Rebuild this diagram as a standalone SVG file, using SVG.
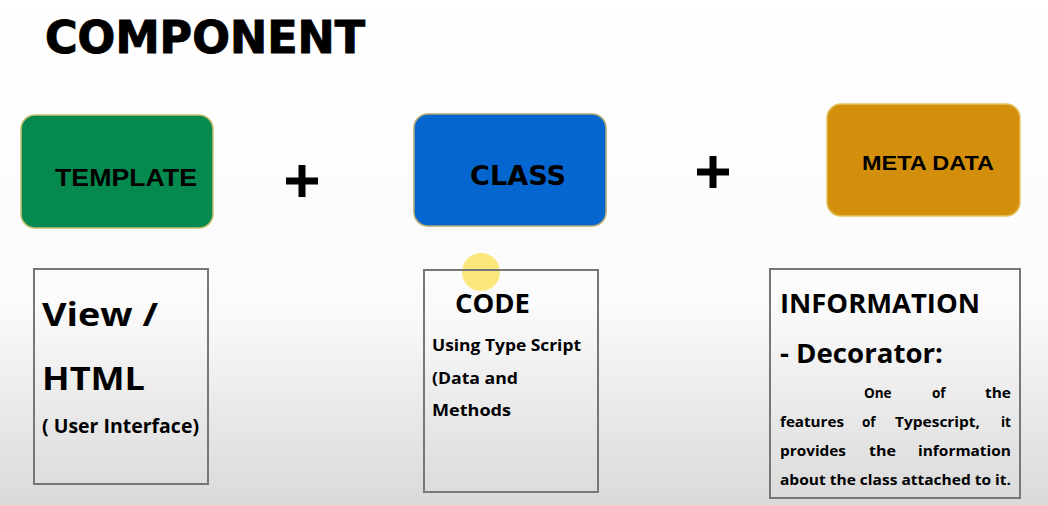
<svg xmlns="http://www.w3.org/2000/svg" width="1048" height="505" viewBox="0 0 1048 505">
<defs>
<linearGradient id="bg" x1="0" y1="0" x2="0" y2="1">
<stop offset="0" stop-color="#ffffff"/>
<stop offset="0.6" stop-color="#fbfbfb"/>
<stop offset="0.78" stop-color="#ececec"/>
<stop offset="1" stop-color="#dadada"/>
</linearGradient>
</defs>
<style>
.hdr{font-family:"DejaVu Sans","Liberation Sans",sans-serif;font-weight:bold;fill:#000}
.lbl{font-family:"Liberation Sans",Arial,sans-serif;font-weight:bold;fill:#000}
.cal{font-family:"Open Sans","Liberation Sans",sans-serif;font-weight:bold;fill:#000}
.card{stroke-width:1.5;rx:14}
.note{fill:none;stroke:#777777;stroke-width:2}
.plus{stroke:#000;stroke-width:7}
</style>
<rect x="0" y="0" width="1048" height="505" fill="url(#bg)"/>
<text class="hdr" x="45" y="53" font-size="44" textLength="320" lengthAdjust="spacingAndGlyphs" stroke="#000" stroke-width="1">COMPONENT</text>

<g id="template">
<rect class="card" x="21" y="115" width="192" height="113" fill="#06894f" stroke="#c8c070"/>
<text class="lbl" x="55" y="186" font-size="23" textLength="142" lengthAdjust="spacingAndGlyphs">TEMPLATE</text>
</g>
<g id="plus1">
<line class="plus" x1="286" y1="181" x2="318" y2="181"/>
<line class="plus" x1="302" y1="165" x2="302" y2="197"/>
</g>
<g id="class">
<rect class="card" x="414" y="114" width="192" height="112" fill="#0566cf" stroke="#b0a870"/>
<text class="hdr" x="470" y="185" font-size="26" textLength="96" lengthAdjust="spacingAndGlyphs" fill="#0a0f2a">CLASS</text>
</g>
<g id="plus2">
<line class="plus" x1="697" y1="172" x2="729" y2="172"/>
<line class="plus" x1="713" y1="156" x2="713" y2="188"/>
</g>
<g id="metadata">
<rect class="card" x="827" y="104" width="193" height="112" fill="#d38f0b" stroke="#e8c060"/>
<text class="lbl" x="862" y="170" font-size="20" textLength="132" lengthAdjust="spacingAndGlyphs" fill="#1a1008">META DATA</text>
</g>

<circle cx="481" cy="272" r="19" fill="#fbe15a" opacity="0.8"/>

<g id="view">
<rect class="note" x="34" y="269" width="174" height="215"/>
<text class="cal" x="42" y="326" font-size="33" textLength="116" lengthAdjust="spacingAndGlyphs">View /</text>
<text class="cal" x="42" y="390" font-size="33" textLength="103" lengthAdjust="spacingAndGlyphs">HTML</text>
<text class="cal" x="42" y="433" font-size="20" textLength="157" lengthAdjust="spacingAndGlyphs">( User Interface)</text>
</g>
<g id="code">
<rect class="note" x="424" y="270" width="174" height="222"/>
<text class="cal" x="455" y="313" font-size="26" textLength="75" lengthAdjust="spacingAndGlyphs">CODE</text>
<text class="cal" x="432" y="351" font-size="16" textLength="149" lengthAdjust="spacingAndGlyphs">Using Type Script</text>
<text class="cal" x="432" y="384" font-size="16" textLength="86" lengthAdjust="spacingAndGlyphs">(Data and</text>
<text class="cal" x="432" y="416" font-size="16" textLength="79" lengthAdjust="spacingAndGlyphs">Methods</text>
</g>
<g id="information">
<rect class="note" x="770" y="269" width="250" height="229"/>
<text class="cal" x="780" y="313" font-size="26" textLength="200" lengthAdjust="spacingAndGlyphs">INFORMATION</text>
<text class="cal" x="780" y="363" font-size="27" textLength="163" lengthAdjust="spacingAndGlyphs">- Decorator:</text>
<g font-size="13.5">
<text class="cal" x="864" y="398">One</text>
<text class="cal" x="932" y="398">of</text>
<text class="cal" x="985" y="398" textLength="26" lengthAdjust="spacingAndGlyphs">the</text>
<text class="cal" x="780" y="427" textLength="64" lengthAdjust="spacingAndGlyphs">features</text>
<text class="cal" x="862" y="427">of</text>
<text class="cal" x="895" y="427" textLength="85" lengthAdjust="spacingAndGlyphs">Typescript,</text>
<text class="cal" x="1001" y="427">it</text>
<text class="cal" x="780" y="456" textLength="66" lengthAdjust="spacingAndGlyphs">provides</text>
<text class="cal" x="869" y="456" textLength="27" lengthAdjust="spacingAndGlyphs">the</text>
<text class="cal" x="918" y="456" textLength="93" lengthAdjust="spacingAndGlyphs">information</text>
<text class="cal" x="780" y="485" textLength="231" lengthAdjust="spacingAndGlyphs">about the class attached to it.</text>
</g>
</g>
</svg>
